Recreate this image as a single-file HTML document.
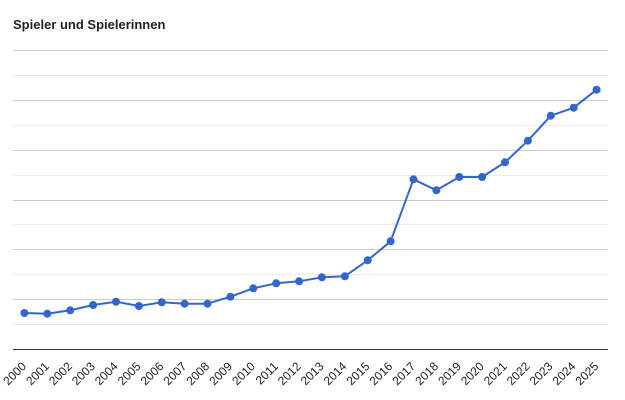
<!DOCTYPE html>
<html>
<head>
<meta charset="utf-8">
<style>
html,body{margin:0;padding:0;background:#fff;}
svg{display:block;}
</style>
</head>
<body>
<svg width="625" height="400" viewBox="0 0 625 400" xmlns="http://www.w3.org/2000/svg">
<rect x="0" y="0" width="625" height="400" fill="#ffffff"/>
<text x="13" y="29" font-family="Liberation Sans, Arial, sans-serif" font-size="13" font-weight="bold" fill="#222222">Spieler und Spielerinnen</text>
<g shape-rendering="crispEdges">
<rect x="13" y="50" width="595" height="1" fill="#cccccc"/>
<rect x="13" y="75" width="595" height="1" fill="#ebebeb"/>
<rect x="13" y="100" width="595" height="1" fill="#cccccc"/>
<rect x="13" y="125" width="595" height="1" fill="#ebebeb"/>
<rect x="13" y="150" width="595" height="1" fill="#cccccc"/>
<rect x="13" y="175" width="595" height="1" fill="#ebebeb"/>
<rect x="13" y="200" width="595" height="1" fill="#cccccc"/>
<rect x="13" y="224" width="595" height="1" fill="#ebebeb"/>
<rect x="13" y="249" width="595" height="1" fill="#cccccc"/>
<rect x="13" y="274" width="595" height="1" fill="#ebebeb"/>
<rect x="13" y="299" width="595" height="1" fill="#cccccc"/>
<rect x="13" y="324" width="595" height="1" fill="#ebebeb"/>
<rect x="13" y="349" width="595" height="1" fill="#333333"/>
</g>
<polyline fill="none" stroke="#3366cc" stroke-width="2" stroke-linejoin="round"
points="24.4,313 47.3,313.7 70.2,310.3 93.1,305 116,301.7 138.9,306 161.7,302.3 184.6,303.7 207.5,303.7 230.4,296.7 253.3,288.3 276.2,283.3 299.1,281.3 321.9,277.3 344.8,276.3 367.7,260.3 390.6,241.3 413.5,179.3 436.4,190.3 459.3,177 482.1,177 505,162.3 527.9,140.7 550.8,115.7 573.7,107.7 596.6,89.7"/>
<g fill="#3366cc">
<circle cx="24.4" cy="313" r="4"/>
<circle cx="47.3" cy="313.7" r="4"/>
<circle cx="70.2" cy="310.3" r="4"/>
<circle cx="93.1" cy="305" r="4"/>
<circle cx="116" cy="301.7" r="4"/>
<circle cx="138.9" cy="306" r="4"/>
<circle cx="161.7" cy="302.3" r="4"/>
<circle cx="184.6" cy="303.7" r="4"/>
<circle cx="207.5" cy="303.7" r="4"/>
<circle cx="230.4" cy="296.7" r="4"/>
<circle cx="253.3" cy="288.3" r="4"/>
<circle cx="276.2" cy="283.3" r="4"/>
<circle cx="299.1" cy="281.3" r="4"/>
<circle cx="321.9" cy="277.3" r="4"/>
<circle cx="344.8" cy="276.3" r="4"/>
<circle cx="367.7" cy="260.3" r="4"/>
<circle cx="390.6" cy="241.3" r="4"/>
<circle cx="413.5" cy="179.3" r="4"/>
<circle cx="436.4" cy="190.3" r="4"/>
<circle cx="459.3" cy="177" r="4"/>
<circle cx="482.1" cy="177" r="4"/>
<circle cx="505" cy="162.3" r="4"/>
<circle cx="527.9" cy="140.7" r="4"/>
<circle cx="550.8" cy="115.7" r="4"/>
<circle cx="573.7" cy="107.7" r="4"/>
<circle cx="596.6" cy="89.7" r="4"/>
</g>
<g font-family="Liberation Sans, Arial, sans-serif" font-size="12" fill="#222222" text-anchor="end">
<text x="27" y="367" transform="rotate(-45 27 367)">2000</text>
<text x="49.9" y="367" transform="rotate(-45 49.9 367)">2001</text>
<text x="72.8" y="367" transform="rotate(-45 72.8 367)">2002</text>
<text x="95.7" y="367" transform="rotate(-45 95.7 367)">2003</text>
<text x="118.6" y="367" transform="rotate(-45 118.6 367)">2004</text>
<text x="141.5" y="367" transform="rotate(-45 141.5 367)">2005</text>
<text x="164.3" y="367" transform="rotate(-45 164.3 367)">2006</text>
<text x="187.2" y="367" transform="rotate(-45 187.2 367)">2007</text>
<text x="210.1" y="367" transform="rotate(-45 210.1 367)">2008</text>
<text x="233" y="367" transform="rotate(-45 233 367)">2009</text>
<text x="255.9" y="367" transform="rotate(-45 255.9 367)">2010</text>
<text x="278.8" y="367" transform="rotate(-45 278.8 367)">2011</text>
<text x="301.7" y="367" transform="rotate(-45 301.7 367)">2012</text>
<text x="324.5" y="367" transform="rotate(-45 324.5 367)">2013</text>
<text x="347.4" y="367" transform="rotate(-45 347.4 367)">2014</text>
<text x="370.3" y="367" transform="rotate(-45 370.3 367)">2015</text>
<text x="393.2" y="367" transform="rotate(-45 393.2 367)">2016</text>
<text x="416.1" y="367" transform="rotate(-45 416.1 367)">2017</text>
<text x="439" y="367" transform="rotate(-45 439 367)">2018</text>
<text x="461.9" y="367" transform="rotate(-45 461.9 367)">2019</text>
<text x="484.7" y="367" transform="rotate(-45 484.7 367)">2020</text>
<text x="507.6" y="367" transform="rotate(-45 507.6 367)">2021</text>
<text x="530.5" y="367" transform="rotate(-45 530.5 367)">2022</text>
<text x="553.4" y="367" transform="rotate(-45 553.4 367)">2023</text>
<text x="576.3" y="367" transform="rotate(-45 576.3 367)">2024</text>
<text x="599.2" y="367" transform="rotate(-45 599.2 367)">2025</text>
</g>
</svg>
</body>
</html>
